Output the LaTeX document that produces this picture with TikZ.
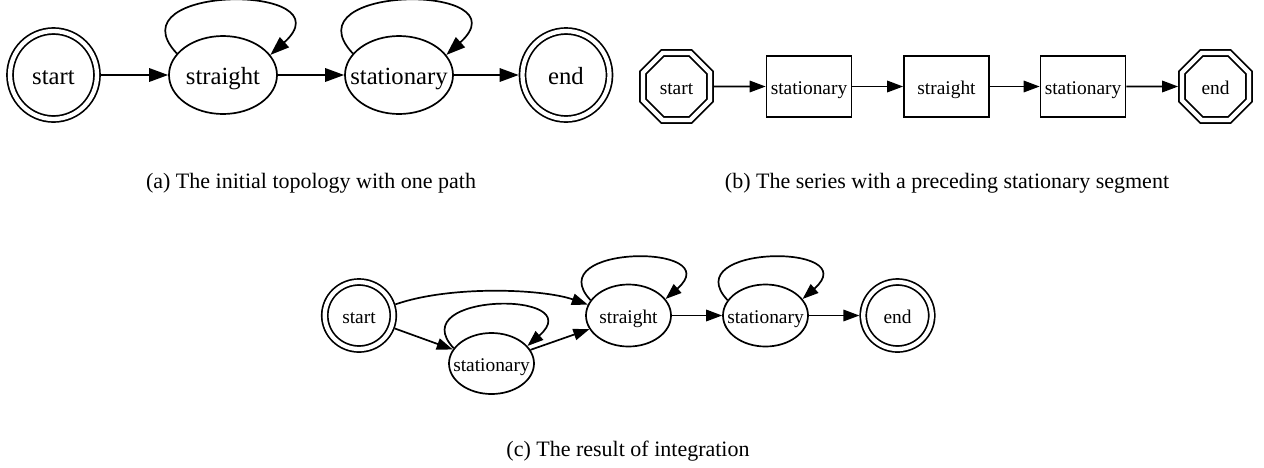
\documentclass[tikz,border=0pt]{standalone}
\usepackage{fontspec}
\setmainfont{Liberation Serif}
\usetikzlibrary{shapes.geometric,arrows.meta}
\newcommand{\zb}[1]{\makebox[0pt]{#1}}
\begin{document}
\begin{tikzpicture}[x=1pt,y=-1pt,line width=1.7pt,
  fa/.style={font=\fontsize{24.7}{28}\selectfont, text height=19.8pt, text depth=0pt},
  fb/.style={font=\fontsize{19.4}{22}\selectfont, text height=15.5pt, text depth=0pt},
  ell/.style={draw, ellipse, inner sep=0pt},
  dell/.style={draw, ellipse, inner sep=0pt, double, double distance=4.3pt, outer sep=3.85pt},
  oct/.style={draw, regular polygon, regular polygon sides=8, inner sep=0pt, double, double distance=4.3pt, outer sep=3.85pt, minimum size=72.5pt},
  stepbox/.style={draw, rectangle, inner sep=0pt, minimum width=85pt, minimum height=61pt},
  arra/.style={-{Triangle[length=19pt,width=13.5pt]}},
  arrb/.style={-{Triangle[length=16pt,width=11.5pt]}},
  captext/.style={font=\fontsize{22}{26}\selectfont}
]
\useasboundingbox (0,0) rectangle (1264,467);

% (a)
\node[dell, fa, minimum width=87pt, minimum height=88pt] (sa) at (53.5,75) {\zb{start}};
\node[ell, fa, minimum width=108pt, minimum height=78pt] (st1) at (223,75) {\zb{straight}};
\node[ell, fa, minimum width=108pt, minimum height=78pt] (sn1) at (399,75) {\zb{stationary}};
\node[dell, fa, minimum width=87pt, minimum height=88pt] (ea) at (566,75) {\zb{end}};
\draw[arra] (sa) -- (st1);
\draw[arra] (st1) -- (sn1);
\draw[arra] (sn1) -- (ea);
\draw[arra] (st1.155) .. controls +(-66,-70) and +(80,-72) .. (st1.23);
\draw[arra] (sn1.155) .. controls +(-66,-70) and +(80,-72) .. (sn1.23);
\node[captext] (capa) at (311,183) {(a) The initial topology with one path};

% (b)
\node[oct, fb] (sb) at (676.5,86.5) {\zb{start}};
\node[stepbox, fb] (b1) at (809,86.5) {\zb{stationary}};
\node[stepbox, fb] (b2) at (946.5,86.5) {\zb{straight}};
\node[stepbox, fb] (b3) at (1083,86.5) {\zb{stationary}};
\node[oct, fb] (eb) at (1215.5,86.5) {\zb{end}};
\draw[arrb] (sb) -- (b1);
\draw[arrb] (b1) -- (b2);
\draw[arrb] (b2) -- (b3);
\draw[arrb] (b3) -- (eb);
\node[captext] (capb) at (947,183) {(b) The series with a preceding stationary segment};

% (c)
\node[dell, fb, minimum width=68.5pt, minimum height=67pt] (sc) at (359,315.5) {\zb{start}};
\node[ell, fb, minimum width=85pt, minimum height=62pt] (stc) at (628.5,315.5) {\zb{straight}};
\node[ell, fb, minimum width=85pt, minimum height=61pt] (lsc) at (491.5,363.5) {\zb{stationary}};
\node[ell, fb, minimum width=85pt, minimum height=62pt] (snc) at (765.5,315.5) {\zb{stationary}};
\node[dell, fb, minimum width=68.5pt, minimum height=67pt] (ec) at (897.5,315.5) {\zb{end}};
\draw[arrb] (sc.17) .. controls +(54,-19) and +(-46,-16) .. (stc.165);
\draw[arrb] (sc) -- (lsc);
\draw[arrb] (lsc) -- (stc);
\draw[arrb] (stc) -- (snc);
\draw[arrb] (snc) -- (ec);
\draw[arrb] (stc.158) .. controls +(-52,-56) and +(64,-56) .. (stc.24);
\draw[arrb] (lsc.158) .. controls +(-52,-56) and +(64,-56) .. (lsc.26);
\draw[arrb] (snc.158) .. controls +(-52,-56) and +(64,-56) .. (snc.24);
\node[captext] (capc) at (628,451) {(c) The result of integration};
\end{tikzpicture}
\end{document}
